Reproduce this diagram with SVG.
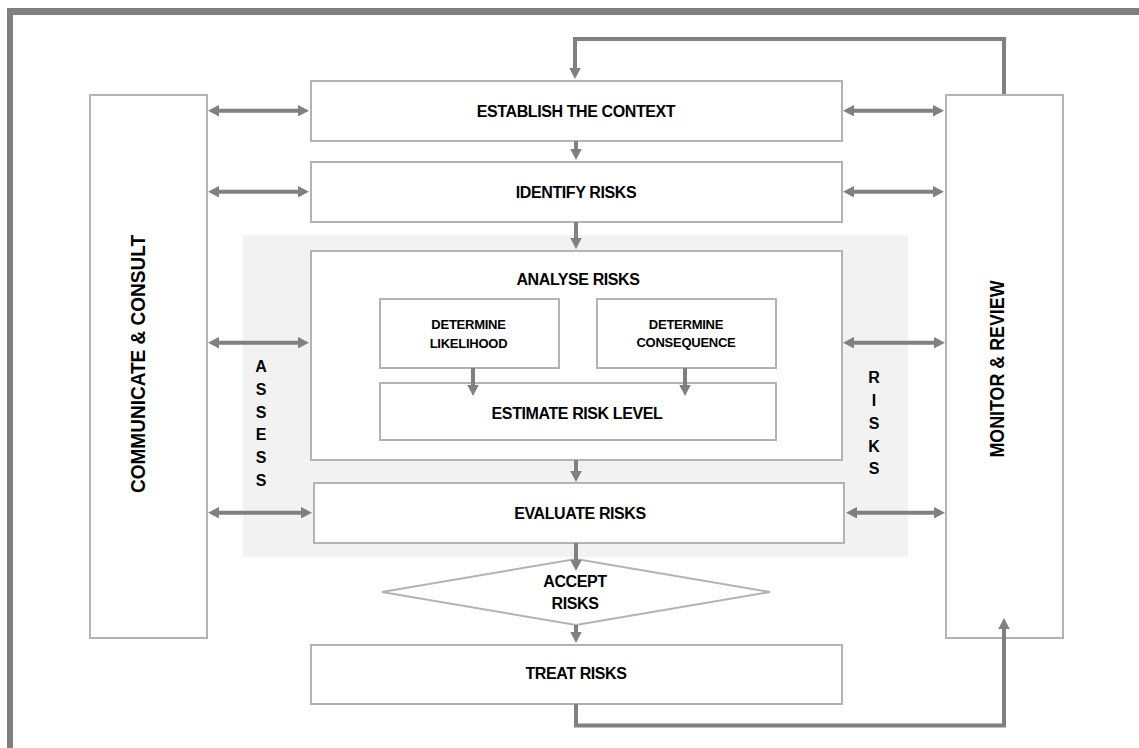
<svg xmlns="http://www.w3.org/2000/svg" width="1139" height="748" viewBox="0 0 1139 748">
<style>
.box{fill:#fff;stroke:#b3b3b3;stroke-width:2}
.lbl{font-family:"Liberation Sans",Arial,sans-serif;font-weight:bold;font-size:16px;letter-spacing:-0.4px;fill:#000;text-anchor:middle}
.sm{font-family:"Liberation Sans",Arial,sans-serif;font-weight:bold;font-size:13px;letter-spacing:-0.25px;fill:#000;text-anchor:middle}
.side{font-family:"Liberation Sans",Arial,sans-serif;font-weight:bold;font-size:16px;fill:#000;text-anchor:middle}
.big{font-family:"Liberation Sans",Arial,sans-serif;font-weight:bold;font-size:20px;fill:#000;text-anchor:middle}
.con{fill:none;stroke:#808080;stroke-width:4}
</style>
<defs>
<marker id="ah" viewBox="0 0 11 11.5" markerWidth="11" markerHeight="11.5" refX="1" refY="5.75" orient="auto-start-reverse" markerUnits="userSpaceOnUse">
<path d="M0,0 L11,5.75 L0,11.5 z" fill="#808080"/>
</marker>
</defs>
<rect width="1139" height="748" fill="#fff"/>
<g id="frame" fill="#808080">
<rect x="7" y="8" width="1132" height="7"/>
<rect x="7" y="8" width="6" height="740"/>
</g>
<rect id="assess-area" x="243" y="235" width="665" height="322" fill="#f2f2f2"/>
<g id="communicate">
<rect class="box" x="90" y="95" width="117" height="543"/>
<text class="big" transform="translate(145,364) rotate(-90)" textLength="258" lengthAdjust="spacingAndGlyphs">COMMUNICATE &amp; CONSULT</text>
</g>
<g id="monitor">
<rect class="box" x="946" y="95" width="117" height="543"/>
<text class="big" transform="translate(1004,369) rotate(-90)" textLength="177" lengthAdjust="spacingAndGlyphs">MONITOR &amp; REVIEW</text>
</g>
<g id="establish">
<rect class="box" x="311" y="81" width="531" height="60"/>
<text class="lbl" x="576" y="116.5">ESTABLISH THE CONTEXT</text>
</g>
<g id="identify">
<rect class="box" x="311" y="162" width="531" height="60"/>
<text class="lbl" x="576" y="197.5">IDENTIFY RISKS</text>
</g>
<g id="analyse">
<rect class="box" x="311" y="251" width="531" height="209"/>
<text class="lbl" x="578" y="284.5">ANALYSE RISKS</text>
</g>
<g id="likelihood">
<rect class="box" x="380" y="299" width="179" height="69"/>
<text class="sm" x="468.5" y="329">DETERMINE</text>
<text class="sm" x="468.5" y="347.5">LIKELIHOOD</text>
</g>
<g id="consequence">
<rect class="box" x="597" y="299" width="179" height="69"/>
<text class="sm" x="686" y="328.5">DETERMINE</text>
<text class="sm" x="686" y="347">CONSEQUENCE</text>
</g>
<g id="estimate">
<rect class="box" x="380" y="383" width="396" height="57"/>
<text class="lbl" x="577" y="418.5">ESTIMATE RISK LEVEL</text>
</g>
<g id="evaluate">
<rect class="box" x="314" y="483" width="530" height="60"/>
<text class="lbl" x="580" y="519">EVALUATE RISKS</text>
</g>
<g id="accept">
<polygon class="box" points="382,592 576,559 770,592 576,625"/>
<text class="lbl" x="575" y="586.5">ACCEPT</text>
<text class="lbl" x="575" y="608.5">RISKS</text>
</g>
<g id="treat">
<rect class="box" x="311" y="645" width="531" height="59"/>
<text class="lbl" x="576" y="679">TREAT RISKS</text>
</g>
<g id="assess-label" class="side">
<text x="261" y="371.5">A</text>
<text x="261" y="394.5">S</text>
<text x="261" y="417.5">S</text>
<text x="261" y="440">E</text>
<text x="261" y="463">S</text>
<text x="261" y="485.5">S</text>
</g>
<g id="risks-label" class="side">
<text x="874" y="382.5">R</text>
<text x="874" y="405.5">I</text>
<text x="874" y="428.5">S</text>
<text x="874" y="451.5">K</text>
<text x="874" y="474">S</text>
</g>
<g id="connectors" class="con">
<path d="M1004 94 V39 H575 V69" marker-end="url(#ah)"/>
<path d="M576 141 V150" marker-end="url(#ah)"/>
<path d="M576 222 V239" marker-end="url(#ah)"/>
<path d="M473 368 V386" marker-end="url(#ah)"/>
<path d="M685 368 V386" marker-end="url(#ah)"/>
<path d="M576 460 V472" marker-end="url(#ah)"/>
<path d="M576 543 V561" marker-end="url(#ah)"/>
<path d="M576 625 V633" marker-end="url(#ah)"/>
<path d="M576 704 V725.5 H1004 V628" marker-end="url(#ah)"/>
<path d="M218 110.7 H299" marker-start="url(#ah)" marker-end="url(#ah)"/>
<path d="M218 191.7 H299" marker-start="url(#ah)" marker-end="url(#ah)"/>
<path d="M218 342.7 H299" marker-start="url(#ah)" marker-end="url(#ah)"/>
<path d="M218 512.7 H302" marker-start="url(#ah)" marker-end="url(#ah)"/>
<path d="M853 110.7 H934" marker-start="url(#ah)" marker-end="url(#ah)"/>
<path d="M853 191.7 H934" marker-start="url(#ah)" marker-end="url(#ah)"/>
<path d="M853 342.7 H935" marker-start="url(#ah)" marker-end="url(#ah)"/>
<path d="M856 512.7 H935" marker-start="url(#ah)" marker-end="url(#ah)"/>
</g>
</svg>
